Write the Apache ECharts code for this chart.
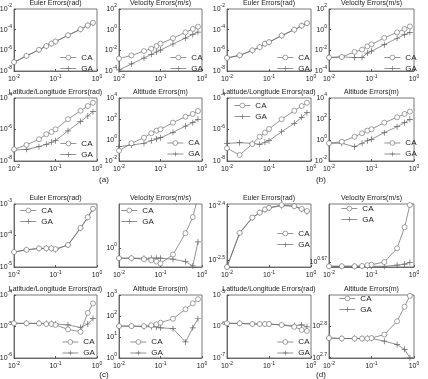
<!DOCTYPE html>
<html>
<head>
<meta charset="utf-8">
<script src="https://cdn.jsdelivr.net/npm/echarts@6/dist/echarts.min.js"></script>
<style>
  html, body { margin: 0; padding: 0; background: #fff; }
  #chart { width: 428px; height: 379px; }
</style>
</head>
<body>
<div id="chart"></div>
<script>
// step sizes on the x axis (shared by every subplot)
const steps = [0.01, 0.02, 0.04, 0.06, 0.08, 0.1, 0.2, 0.4, 0.6, 0.8]
const xTickExps = [-2, -1, 0]

// (a)
const eulerA_CA = [7.2e-8, 2.9e-7, 1.15e-6, 2.6e-6, 4.6e-6, 7.2e-6, 2.9e-5, 1.1e-4, 2.6e-4, 4.7e-4]
const eulerA_GA = [7.0e-8, 2.8e-7, 1.1e-6, 2.5e-6, 4.4e-6, 6.9e-6, 2.8e-5, 1.1e-4, 2.5e-4, 4.5e-4]
const velA_CA = [1.6e-3, 3.2e-3, 8.5e-3, 1.45e-2, 2.6e-2, 4.4e-2, 0.148, 0.55, 1.17, 1.95]
const velA_GA = [1.26e-4, 4.8e-4, 1.8e-3, 4.1e-3, 6.9e-3, 1.07e-2, 4.1e-2, 0.155, 0.35, 0.59]
const latA_CA = [5.5e-8, 1.05e-7, 2.4e-7, 5.0e-7, 6.9e-7, 1.02e-6, 4.5e-6, 1.55e-5, 3.1e-5, 5.0e-5]
const latA_GA = [5.0e-8, 5.5e-8, 8.1e-8, 1.15e-7, 1.55e-7, 1.95e-7, 8.3e-7, 3.2e-6, 7.2e-6, 1.35e-5]
const altA_CA = [0.095, 0.49, 1.66, 4.4, 7.8, 10.5, 45, 166, 302, 575]
const altA_GA = [0.23, 0.33, 0.49, 0.85, 1.26, 1.66, 5.4, 21, 45, 93]

// (b)
const eulerB_CA = [1.86e-7, 3.3e-7, 1.0e-6, 2.04e-6, 4.4e-6, 6.2e-6, 2.7e-5, 1.0e-4, 2.4e-4, 4.3e-4]
const eulerB_GA = [1.8e-7, 3.2e-7, 9.8e-7, 2.0e-6, 4.3e-6, 6.1e-6, 2.65e-5, 1.0e-4, 2.35e-4, 4.2e-4]
const velB_CA = [2.0e-3, 2.3e-3, 6.9e-3, 1.17e-2, 2.4e-2, 3.7e-2, 0.162, 0.55, 1.17, 2.04]
const velB_GA = [2.0e-3, 2.3e-3, 2.0e-3, 2.0e-3, 5.5e-3, 8.5e-3, 3.5e-2, 0.148, 0.33, 0.55]
const latB_CA = [6.5e-8, 2.4e-8, 1.2e-7, 3.5e-7, 6.3e-7, 1.07e-6, 4.5e-6, 1.55e-5, 3.1e-5, 5.0e-5]
const latB_GA = [1.32e-7, 1.45e-7, 1.32e-7, 1.15e-7, 1.55e-7, 1.95e-7, 7.2e-7, 2.45e-6, 5.9e-6, 1.17e-5]
const altB_CA = [0.49, 0.69, 2.04, 4.4, 7.8, 10.5, 45, 145, 302, 500]
const altB_GA = [0.49, 0.49, 0.23, 0.49, 0.85, 1.17, 5.0, 18.6, 45, 93]

// (c)
const eulerC_CA = [3.0e-5, 3.5e-5, 3.9e-5, 3.9e-5, 3.9e-5, 3.7e-5, 5.0e-5, 1.74e-4, 3.8e-4, 7.1e-4]
const eulerC_GA = [3.0e-5, 3.5e-5, 3.9e-5, 3.9e-5, 3.85e-5, 3.6e-5, 5.0e-5, 1.7e-4, 3.7e-4, 7.0e-4]
const velC_CA = [0.69, 0.69, 0.665, 0.64, 0.61, 0.57, 0.79, 1.72, 3.1, 6.5]
const velC_GA = [0.69, 0.69, 0.69, 0.69, 0.69, 0.69, 0.665, 0.61, 0.52, 1.25]
const latC_CA = [1.26e-5, 1.26e-5, 1.25e-5, 1.2e-5, 1.2e-5, 1.12e-5, 8.1e-6, 6.8e-6, 2.7e-5, 5.4e-5]
const latC_GA = [1.26e-5, 1.26e-5, 1.26e-5, 1.25e-5, 1.24e-5, 1.2e-5, 1.12e-5, 9.3e-6, 1.2e-5, 1.78e-5]
const altC_CA = [33, 33, 33, 36, 40, 48, 74, 209, 398, 631]
const altC_GA = [33, 33, 31, 31, 30, 27.5, 25, 5.8, 27.5, 74]

// (d)
const eulerD_CA = [3.076e-3, 3.556e-3, 3.793e-3, 3.873e-3, 3.927e-3, 3.954e-3, 3.999e-3, 3.981e-3, 3.936e-3, 3.899e-3]
const eulerD_GA = [3.08e-3, 3.55e-3, 3.79e-3, 3.87e-3, 3.92e-3, 3.95e-3, 3.99e-3, 3.98e-3, 3.93e-3, 3.89e-3]
const velD_CA = [4.592, 4.592, 4.592, 4.597, 4.613, 4.624, 4.677, 4.966, 5.445, 5.998]
const velD_GA = [4.592, 4.592, 4.592, 4.592, 4.592, 4.592, 4.592, 4.613, 4.634, 4.667]
const latD_CA = [1.26e-6, 1.26e-6, 1.2e-6, 1.2e-6, 1.2e-6, 1.2e-6, 1.12e-6, 9.8e-7, 7.8e-7, 7.2e-7]
const latD_GA = [1.26e-6, 1.26e-6, 1.2e-6, 1.2e-6, 1.2e-6, 1.2e-6, 1.12e-6, 1.07e-6, 1.12e-6, 9.8e-7]
const altD_CA = [579, 577, 577, 577, 577, 579, 594, 655, 729, 789]
const altD_GA = [579, 577, 577, 577, 577, 577, 566, 552, 533, 501]

// y tick exponents and y limits (as exponents of 10)
const yTicksEuler = [-8, -6, -4, -2]
const yTicksVel = [-4, -2, 0, 2]
const yTicksLat = [-8, -6, -4]
const yTicksAlt = [-2, 0, 2, 4]
const yTicksEulerC = [-5, -4, -3]
const yTicksVelC = [0]
const yTicksLatC = [-6, -5, -4]
const yTicksAltC = [0, 1, 2, 3]
const yTicksEulerD = [-2.5, -2.4]
const yTicksVelD = [0.67, 0.78]
const yTicksLatD = [-7, -6, -5]
const yTicksAltD = [2.7, 2.8, 2.9]

const TITLES = ['Euler Errors(rad)', 'Velocity Errors(m/s)', 'Latitude/Longitude Errors(rad)', 'Altitude Errors(m)']
const PANEL_LABELS = ['(a)', '(b)', '(c)', '(d)']

// layout of the 4x4 axes boxes
const colLeft = [14, 119, 227, 329]
const colWidth = [83, 83, 84, 85]
const rowTop = [9, 98, 204, 295]
const rowHeight = [62, 63, 63, 63]

const LINE = '#666'
const TEXT = '#222'
const FONT = 'Liberation Sans, Arial, sans-serif'
const PLUS = 'path://M4.4,0h1.2v4.4h4.4v1.2h-4.4v4.4h-1.2v-4.4h-4.4v-1.2h4.4z'

const panels = [
  { t: 0, c: 0, r: 0, ca: eulerA_CA, ga: eulerA_GA, y: [-8, -2], ticks: yTicksEuler, lg: [60, 53.5] },
  { t: 1, c: 1, r: 0, ca: velA_CA, ga: velA_GA, y: [-4, 2], ticks: yTicksVel, lg: [170, 53.5] },
  { t: 2, c: 0, r: 1, ca: latA_CA, ga: latA_GA, y: [-8, -4], ticks: yTicksLat, lg: [60, 139.5] },
  { t: 3, c: 1, r: 1, ca: altA_CA, ga: altA_GA, y: [-2, 4], ticks: yTicksAlt, lg: [167, 139] },

  { t: 0, c: 2, r: 0, ca: eulerB_CA, ga: eulerB_GA, y: [-8, -2], ticks: yTicksEuler, lg: [277, 53.5] },
  { t: 1, c: 3, r: 0, ca: velB_CA, ga: velB_GA, y: [-4, 2], ticks: yTicksVel, lg: [384, 53.5] },
  { t: 2, c: 2, r: 1, ca: latB_CA, ga: latB_GA, y: [-8, -4], ticks: yTicksLat, lg: [234, 101.5] },
  { t: 3, c: 3, r: 1, ca: altB_CA, ga: altB_GA, y: [-2, 4], ticks: yTicksAlt, lg: [384, 139] },

  { t: 0, c: 0, r: 2, ca: eulerC_CA, ga: eulerC_GA, y: [-5, -3], ticks: yTicksEulerC, lg: [20, 206.5] },
  { t: 1, c: 1, r: 2, ca: velC_CA, ga: velC_GA, y: [-0.301, 0.699], ticks: yTicksVelC, lg: [121, 206.5] },
  { t: 2, c: 0, r: 3, ca: latC_CA, ga: latC_GA, y: [-6, -4], ticks: yTicksLatC, lg: [62, 338] },
  { t: 3, c: 1, r: 3, ca: altC_CA, ga: altC_GA, y: [0, 3], ticks: yTicksAltC, lg: [130, 338] },

  { t: 0, c: 2, r: 2, ca: eulerD_CA, ga: eulerD_GA, y: [-2.512, -2.396], ticks: yTicksEulerD, lg: [277, 229.5] },
  { t: 1, c: 3, r: 2, ca: velD_CA, ga: velD_GA, y: [0.6606, 0.78], ticks: yTicksVelD, lg: [341, 204.5] },
  { t: 2, c: 2, r: 3, ca: latD_CA, ga: latD_GA, y: [-7, -5], ticks: yTicksLatD, lg: [277, 338] },
  { t: 3, c: 3, r: 3, ca: altD_CA, ga: altD_GA, y: [2.699, 2.9], ticks: yTicksAltD, lg: [339, 294.5] },
]

// "10^e" tick label as rich text with a raised exponent
const powLabel = (v) => {
  const e = Math.round(Math.log10(v) * 100) / 100
  return '{b|10}{e|' + e + '}'
}

const powRich = {
  b: { fontSize: 7, lineHeight: 11, color: TEXT, fontFamily: FONT },
  e: { fontSize: 5, lineHeight: 6, verticalAlign: 'top', color: TEXT, fontFamily: FONT },
}

const caStyle = { color: '#fff', borderColor: LINE, borderWidth: 0.6 }
const gaStyle = { color: LINE, borderWidth: 0 }

const grid = []
const xAxis = []
const yAxis = []
const series = []
const legend = []
const title = []

panels.forEach((p, i) => {
  const left = colLeft[p.c]
  const top = rowTop[p.r]
  const w = colWidth[p.c]
  const h = rowHeight[p.r]

  grid.push({
    left, top, width: w, height: h,
    show: true, borderColor: '#555', borderWidth: 0.8, backgroundColor: '#fff',
    outerBoundsMode: 'none',
  })

  const xTicks = xTickExps.map((e) => Math.pow(10, e))
  xAxis.push({
    type: 'log', gridIndex: i, min: xTicks[0], max: xTicks[xTicks.length - 1],
    axisLine: { show: true, lineStyle: { color: '#555', width: 0.8 } },
    axisTick: { show: true, inside: true, length: 2, lineStyle: { color: '#555' }, customValues: xTicks },
    axisLabel: { margin: 3, formatter: powLabel, rich: powRich, customValues: xTicks },
    splitLine: { show: false },
    minorTick: { show: false },
  })

  const yTicks = p.ticks.map((e) => Math.pow(10, e))
  yAxis.push({
    type: 'log', gridIndex: i, min: Math.pow(10, p.y[0]), max: Math.pow(10, p.y[1]),
    axisLine: { show: true, lineStyle: { color: '#555', width: 0.8 } },
    axisTick: { show: true, inside: true, length: 2, lineStyle: { color: '#555' }, customValues: yTicks },
    axisLabel: { margin: 2, formatter: powLabel, rich: powRich, customValues: yTicks },
    splitLine: { show: false },
  })

  series.push({
    name: 'CA', type: 'line', xAxisIndex: i, yAxisIndex: i,
    data: steps.map((x, k) => [x, p.ca[k]]),
    symbol: 'circle', symbolSize: 5,
    lineStyle: { color: LINE, width: 0.7 },
    itemStyle: caStyle,
    animation: false, z: 3,
  })
  series.push({
    name: 'GA', type: 'line', xAxisIndex: i, yAxisIndex: i,
    data: steps.map((x, k) => [x, p.ga[k]]),
    symbol: PLUS, symbolSize: 6,
    lineStyle: { color: LINE, width: 0.7 },
    itemStyle: gaStyle,
    animation: false, z: 2,
  })

  legend.push({
    left: p.lg[0], top: p.lg[1], orient: 'vertical', padding: 0,
    itemWidth: 16, itemHeight: 6, itemGap: 3, selectedMode: false,
    data: [
      { name: 'CA', itemStyle: caStyle },
      { name: 'GA', itemStyle: gaStyle },
    ],
    lineStyle: { width: 0.7, color: LINE },
    textStyle: { fontSize: 8, color: TEXT, fontFamily: FONT },
  })

  title.push({
    text: TITLES[p.t], left: left + w / 2, top: top - 9, textAlign: 'center', padding: 0,
    textStyle: { fontSize: 7, fontWeight: 'normal', color: TEXT, fontFamily: FONT },
  })
})

// panel captions
const captionPos = [[104, 176], [321, 176], [104, 371], [321, 371]]
PANEL_LABELS.forEach((txt, i) => {
  title.push({
    text: txt, left: captionPos[i][0], top: captionPos[i][1], textAlign: 'center', padding: 0,
    textStyle: { fontSize: 8, fontWeight: 'normal', color: TEXT, fontFamily: FONT },
  })
})

const chart = echarts.init(document.getElementById('chart'))
chart.setOption({
  backgroundColor: '#fff',
  animation: false,
  title, grid, xAxis, yAxis, series, legend,
})
</script>
</body>
</html>
